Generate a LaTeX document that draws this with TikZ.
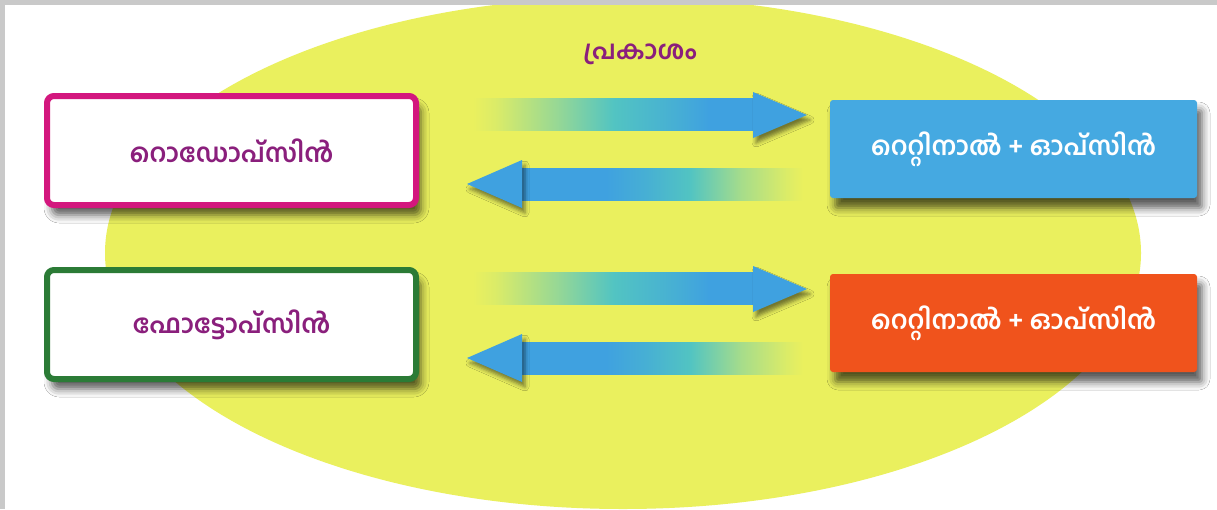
\documentclass[tikz,border=0pt]{standalone}
\usepackage{fontspec}
\newfontfamily\mlfont[Script=Malayalam]{Hind Kochi}
\usetikzlibrary{shadows.blur}
\definecolor{ybg}{HTML}{EAF05E}
\definecolor{framegray}{HTML}{C9C9C9}
\definecolor{mag}{HTML}{D3177E}
\definecolor{grn}{HTML}{2B7B36}
\definecolor{txtp}{HTML}{8A1F7C}
\definecolor{boxblue}{HTML}{45A9E1}
\definecolor{boxorange}{HTML}{F0531C}
\definecolor{arrblue}{HTML}{3FA1E0}
\definecolor{arrteal}{HTML}{52C4C2}
\pgfdeclarehorizontalshading{fadeR}{100bp}{color(0bp)=(ybg); color(25bp)=(ybg); color(29bp)=(ybg!90!arrteal); color(40bp)=(arrteal!55!ybg); color(50bp)=(arrteal); color(61bp)=(arrteal!40!arrblue); color(67bp)=(arrblue); color(75bp)=(arrblue); color(100bp)=(arrblue)}
\pgfdeclarehorizontalshading{fadeL}{100bp}{color(0bp)=(arrblue); color(25bp)=(arrblue); color(40bp)=(arrblue); color(47bp)=(arrteal!40!arrblue); color(55bp)=(arrteal); color(64bp)=(arrteal!45!ybg); color(72bp)=(ybg!90!arrteal); color(75bp)=(ybg); color(100bp)=(ybg)}
\tikzset{
  mltext/.style={font=\mlfont\bfseries\fontsize{26}{30}\selectfont},
  boxshadow/.style={blur shadow={shadow xshift=5pt, shadow yshift=-10pt, shadow blur radius=8pt, shadow opacity=65}},
  headshadow/.style={blur shadow={shadow xshift=3pt, shadow yshift=-5pt, shadow blur radius=4pt, shadow opacity=50}},
  whitebox/.style={mltext, text=txtp, fill=white, line width=6pt, rounded corners=7pt,
    minimum width=369pt, minimum height=109pt, boxshadow},
  colbox/.style={mltext, text=white, rounded corners=3pt,
    minimum width=367pt, minimum height=98pt, boxshadow},
}
\begin{document}
\begin{tikzpicture}[x=1pt,y=-1pt]
\useasboundingbox (0,0) rectangle (1217,509);
\fill[white] (0,0) rectangle (1217,509);
% background ellipse
\fill[ybg] (623,253) ellipse [x radius=518pt, y radius=256pt];
% frame
\fill[framegray] (0,0) rectangle (1217,5);
\fill[framegray] (0,0) rectangle (5,509);

% label
\node[mltext, text=txtp] (light) at (640,54) {പ്രകാശം};

% arrows, row 1
\shade[shading=fadeR] (473,98) rectangle (754,130);
\fill[arrblue, headshadow] (753,92) -- (807,115) -- (753,138) -- cycle;
\shade[shading=fadeL] (521,168) rectangle (803,200);
\fill[arrblue, headshadow] (522,160) -- (467,184) -- (522,208) -- cycle;

% arrows, row 2
\shade[shading=fadeR] (473,272) rectangle (754,304);
\fill[arrblue, headshadow] (753,266) -- (807,289) -- (753,312) -- cycle;
\shade[shading=fadeL] (521,342) rectangle (803,374);
\fill[arrblue, headshadow] (522,334) -- (467,358) -- (522,382) -- cycle;

% boxes
\node[whitebox, draw=mag] (rho) at (231.5,150.5) {റൊഡോപ്സിൻ};
\node[whitebox, draw=grn] (pho) at (231.5,324.5) {ഫോട്ടോപ്സിൻ};
\node[colbox, fill=boxblue] (ret1) at (1013.5,149) {റെറ്റിനാൽ + ഓപ്സിൻ};
\node[colbox, fill=boxorange] (ret2) at (1013.5,323) {റെറ്റിനാൽ + ഓപ്സിൻ};
\end{tikzpicture}
\end{document}
